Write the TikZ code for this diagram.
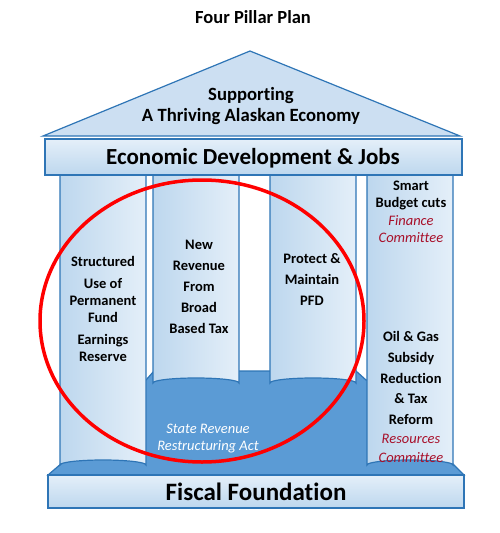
\documentclass[tikz,border=0pt]{standalone}
\usepackage{fontspec}
\setmainfont{Carlito}[Ligatures=NoCommon]
\definecolor{lineblue}{HTML}{2E75B6}
\definecolor{darkfill}{HTML}{5B9BD5}
\definecolor{lightA}{HTML}{BDD7EE}
\definecolor{lightB}{HTML}{E4EFF9}
\definecolor{rooffill}{HTML}{CCDFF2}
\definecolor{comred}{HTML}{A8102A}
\tikzset{
  outline/.style={draw=lineblue, line width=1.2pt},
  colbody/.style={outline, left color=lightA, right color=lightB, middle color=lightA!70!white},
  coltext/.style={font=\bfseries\fontsize{14.5}{17}\selectfont, align=center, text=black},
  bigtext/.style={font=\bfseries, text=black},
  committee/.style={font=\itshape\fontsize{14.5}{17}\selectfont, text=comred},
}
\newcommand{\pillar}[3]{%
  \path[colbody] (#1,174) -- (#1,#3) arc[start angle=180, end angle=360, x radius=43, y radius=5] -- (#2,174) -- cycle;
  \draw[lineblue, line width=1.2pt] (#1,175) arc[start angle=180, end angle=360, x radius=43, y radius=4];
}
\begin{document}
\begin{tikzpicture}[x=1pt,y=-1pt]
\useasboundingbox (0,0) rectangle (500,533);
\fill[white] (0,0) rectangle (500,533);
% title
\node[bigtext, font=\bfseries\fontsize{18.5}{20}\selectfont] (title) at (253,17) {Four Pillar Plan};
% roof
\path[outline, fill=rooffill] (43,136) -- (250,51) -- (460,136) -- cycle;
\node[bigtext, font=\bfseries\fontsize{18.7}{21.5}\selectfont, align=center] (roof) at (251,106) {Supporting\\A Thriving Alaskan Economy};
% dark platform
\path[outline, fill=darkfill] (48,475) -- (62,463) -- (62,380) -- (146,380) -- (154,371) -- (356,371) -- (366,380) -- (452,380) -- (452,463) -- (464,475) -- cycle;
% pillars
\pillar{60}{146}{465}
\pillar{153}{239}{383}
\pillar{270}{356}{383}
\pillar{367}{453}{465}
% beam
\path[outline, top color=lightB, bottom color=lightA] (45,139) rectangle (462,175);
\node[bigtext, font=\bfseries\fontsize{23}{26}\selectfont] (beam) at (253,158) {Economic Development \& Jobs};
% foundation
\path[outline, top color=lightB, bottom color=lightA] (48,475) rectangle (464,508);
\node[bigtext, font=\bfseries\fontsize{25}{28}\selectfont] (found) at (256,492) {Fiscal Foundation};
% pillar texts
\node[coltext] (c1) at (103,309) {Structured\\[5pt]Use of\\Permanent\\Fund\\[5pt]Earnings\\Reserve};
\node[coltext, font=\bfseries\fontsize{14.5}{21}\selectfont] (c2) at (199,287) {New\\Revenue\\From\\Broad\\Based Tax};
\node[coltext, font=\bfseries\fontsize{14.5}{21}\selectfont] (c3) at (312,279) {Protect \&\\Maintain\\PFD};
\node[coltext] (c4a) at (411,195) {Smart\\Budget cuts};
\node[committee, align=center] (c4b) at (411,229) {Finance\\Committee};
\node[coltext, font=\bfseries\fontsize{14.5}{20.7}\selectfont] (c4c) at (411,378) {Oil \& Gas\\Subsidy\\Reduction\\\& Tax\\Reform};
\node[committee, font=\itshape\fontsize{14.5}{19}\selectfont, align=center] (c4d) at (411,448) {Resources\\Committee};
% platform text
\node[font=\itshape\fontsize{14.5}{17}\selectfont, text=white, align=center] (act) at (208,439) {State Revenue\\Restructuring Act};
% red ellipse
\draw[red, line width=3.5pt] (202,321) ellipse [x radius=162, y radius=141];
\end{tikzpicture}
\end{document}
